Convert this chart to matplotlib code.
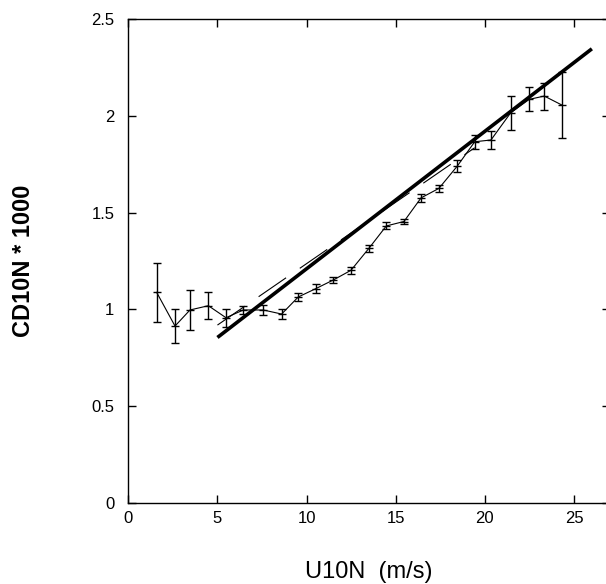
import matplotlib
matplotlib.use("Agg")
import matplotlib.pyplot as plt

# ---- data ----
u10n = [1.59, 2.62, 3.46, 4.49, 5.48, 6.45, 7.57, 8.60, 9.53, 10.51, 11.50, 12.49,
        13.50, 14.47, 15.46, 16.42, 17.42, 18.45, 19.43, 20.34, 21.45, 22.49, 23.33, 24.31]
cd10n = [1.088, 0.914, 0.997, 1.019, 0.957, 0.997, 0.997, 0.976, 1.064, 1.107, 1.152, 1.202,
         1.316, 1.431, 1.454, 1.576, 1.625, 1.740, 1.866, 1.875, 2.016, 2.085, 2.102, 2.056]
cd10n_err = [0.153, 0.088, 0.105, 0.070, 0.047, 0.021, 0.028, 0.024, 0.020, 0.022, 0.017, 0.017,
             0.017, 0.018, 0.015, 0.020, 0.020, 0.030, 0.037, 0.046, 0.088, 0.062, 0.070, 0.170]

fit_x = [5.0, 26.0]
fit_y = [0.855, 2.346]

dash_x = [5.0, 19.43]
dash_y = [0.919, 1.835]

xticks = [0, 5, 10, 15, 20, 25]
yticks = [0, 0.5, 1, 1.5, 2, 2.5]
ytick_labels = ["0", "0.5", "1", "1.5", "2", "2.5"]

plt.rcParams['font.family'] = ['Liberation Sans', 'DejaVu Sans']
plt.rcParams['lines.scale_dashes'] = False

W, H = 606, 584
fig = plt.figure(figsize=(W / 100, H / 100), dpi=100)
fig.patch.set_facecolor('white')

left_px, right_px, top_px, bottom_px = 128.3, 609.7, 19.0, 503.0
ax = fig.add_axes([left_px / W, (H - bottom_px) / H,
                   (right_px - left_px) / W, (bottom_px - top_px) / H])

# thick line
ax.plot(fit_x, fit_y, color='black', lw=2.6, solid_capstyle='butt', zorder=3)
# thin dashed line
ax.plot(dash_x, dash_y, color='black', lw=0.8, linestyle=(0, (24, 12)), zorder=2)
# data with error bars
ax.errorbar(u10n, cd10n, yerr=cd10n_err, color='black', lw=0.8, elinewidth=1.0,
            capsize=3, capthick=1.0, marker='_', ms=6, mew=1.0, zorder=4)

ax.set_xlim(0, 27)
ax.set_ylim(0, 2.5)
ax.set_xticks(xticks)
ax.set_xticklabels([str(t) for t in xticks])
ax.set_yticks(yticks)
ax.set_yticklabels(ytick_labels)

ax.tick_params(direction='in', length=6, width=1.0, top=True, right=True,
               labelsize=12, colors='black')
ax.tick_params(axis='x', pad=6)
ax.tick_params(axis='y', pad=10)
for s in ax.spines.values():
    s.set_linewidth(1.0)

ax.set_xlabel("U10N  (m/s)", fontsize=17, va='center')
ax.xaxis.set_label_coords(0.5, (bottom_px - 572) / (bottom_px - top_px))
ax.set_ylabel("CD10N * 1000", fontsize=17, fontweight='bold', va='center')
ax.yaxis.set_label_coords((24 - left_px) / (right_px - left_px), 0.5)

fig.savefig("out.png", dpi=100, facecolor='white')
